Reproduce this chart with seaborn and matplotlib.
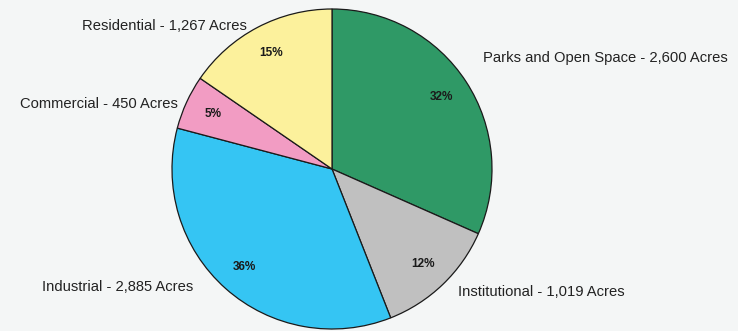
import matplotlib
matplotlib.use("Agg")
import matplotlib.pyplot as plt
import seaborn as sns

# Land use data (acres), clockwise from the top
categories = ['Parks and Open Space', 'Institutional', 'Industrial', 'Commercial', 'Residential']
acres = [2600, 1019, 2885, 450, 1267]
pct_labels = ['32%', '12%', '36%', '5%', '15%']
colors = ['#2f9966', '#c0c0c0', '#35c5f3', '#f29cc3', '#fcf19c']

# where the outside labels go (pixel coords, left edge / vertical center)
label_pos = {
    'Parks and Open Space': (483, 58),
    'Institutional': (458, 292),
    'Industrial': (42, 287),
    'Commercial': (20, 104),
    'Residential': (82, 26),
}

sns.set_style("white")
plt.rcParams['font.family'] = ['Liberation Sans', 'DejaVu Sans']

W, H = 738, 331
bg = '#f4f6f6'
fig = plt.figure(figsize=(W / 100, H / 100), dpi=100, facecolor=bg)
ax = fig.add_axes([0, 0, 1, 1])
ax.set_facecolor(bg)

wedges, texts, autotexts = ax.pie(
    acres, colors=colors, startangle=90, counterclock=False,
    center=(332, H - 169), radius=160, autopct='%1.0f%%', pctdistance=0.82,
    wedgeprops=dict(edgecolor='#1a1a1a', linewidth=0.9), frame=True)

for t, lab in zip(autotexts, pct_labels):
    t.set_text(lab)
    t.set_fontsize(8.5)
    t.set_fontweight('bold')
    t.set_color('#1a1a1a')

for cat, a in zip(categories, acres):
    x, y = label_pos[cat]
    ax.text(x, H - y, f'{cat} - {a:,} Acres', fontsize=10.6, color='#222222',
            ha='left', va='center')

ax.set_xlim(0, W)
ax.set_ylim(0, H)
ax.set_aspect('equal')
ax.axis('off')

fig.savefig('out.png', dpi=100, facecolor=bg)
